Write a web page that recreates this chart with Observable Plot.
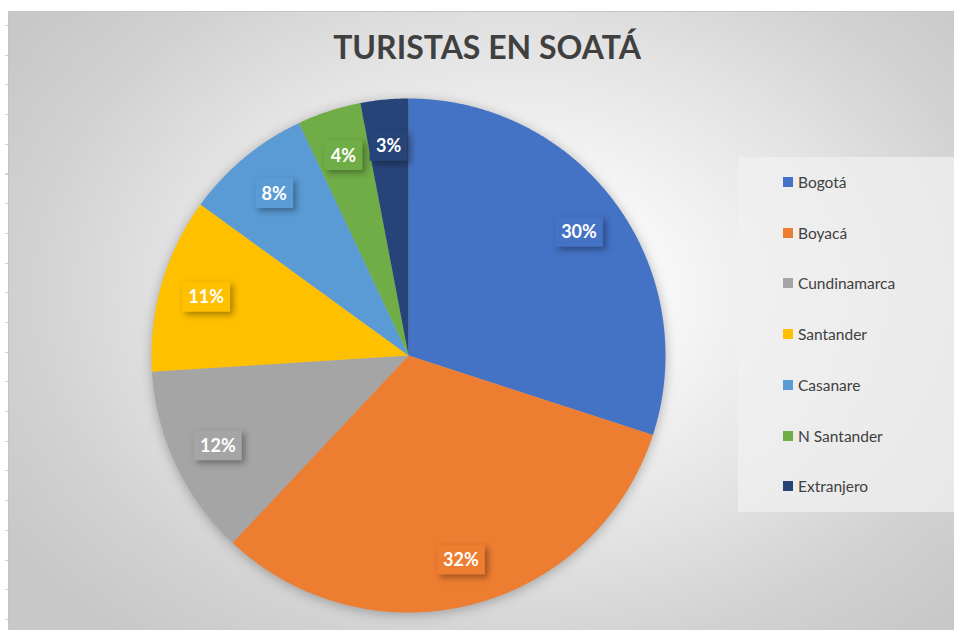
<!DOCTYPE html>
<html>
<head>
<meta charset="utf-8">
<script src="https://cdn.jsdelivr.net/npm/d3@7"></script>
<script src="https://cdn.jsdelivr.net/npm/@observablehq/plot@0.6"></script>
<style>
  html, body { margin: 0; padding: 0; background: #fff; }
  #wrap { position: relative; width: 954px; height: 630px; overflow: hidden; font-family: Lato, "Open Sans", sans-serif; }
  #ticks { position: absolute; left: 5px; top: 25px; width: 3px; height: 605px;
    background: repeating-linear-gradient(to bottom, #d4d4d4 0px, #d4d4d4 1px, transparent 1px, transparent 29.7px); }
  #frame { position: absolute; left: 8px; top: 11px; width: 980px; height: 640px; border: 1px solid #c4c4c4;
    background: radial-gradient(ellipse 62% 70% at 52% 44%, #ffffff 0%, #f7f7f7 25%, #e4e4e4 55%, #d2d2d2 80%, #c8c8c8 100%); }
  #title { position: absolute; left: 287px; width: 400px; top: 27px; text-align: center; font-weight: 700;
    font-size: 32px; color: #404040; letter-spacing: 0px; }
  #plot { position: absolute; left: 0; top: 0; }
  #plot svg { background: transparent !important; overflow: visible; }
  #plot g[aria-label="geo"] { filter: drop-shadow(0px 2px 6px rgba(0,0,0,0.28)); }
  #plot g[aria-label="dot"] path { filter: drop-shadow(3px 3px 3px rgba(0,0,0,0.35)); }
  #legend { position: absolute; left: 738px; top: 157px; width: 230px; height: 355px; background: rgba(240,240,240,0.75); }
  .li { position: absolute; left: 45px; height: 20px; display: flex; align-items: center; font-size: 15.5px; color: #404040; }
  .sw { width: 10px; height: 10px; margin-right: 5px; }
</style>
</head>
<body>
<div id="wrap">
  <div id="ticks"></div>
  <div id="frame"></div>
  <div id="plot"></div>
  <div id="title">TURISTAS EN SOATÁ</div>
  <div id="legend"></div>
</div>
<script>
const categories = ["Bogotá", "Boyacá", "Cundinamarca", "Santander", "Casanare", "N Santander", "Extranjero"];
const shares = [30, 32, 12, 11, 8, 4, 3];
const colors = ["#4472C4", "#ED7D31", "#A5A5A5", "#FFC000", "#5B9BD5", "#70AD47", "#264478"];

const total = d3.sum(shares);
let acc = 0;
const slices = categories.map((name, i) => {
  const a0 = acc / total * 2 * Math.PI;
  acc += shares[i];
  const a1 = acc / total * 2 * Math.PI;
  const ring = [[0, 0]];
  const n = Math.max(4, Math.ceil((a1 - a0) / (Math.PI / 360)));
  for (let k = 0; k <= n; k++) {
    const a = a0 + (a1 - a0) * k / n;
    ring.push([Math.sin(a), -Math.cos(a)]);
  }
  ring.push([0, 0]);
  const mid = (a0 + a1) / 2;
  return {
    name, share: shares[i], label: shares[i] + "%",
    geometry: {type: "Polygon", coordinates: [ring]},
    lx: 0.82 * Math.sin(mid), ly: -0.82 * Math.cos(mid)
  };
});

const wide = {draw(ctx) { ctx.rect(-24, -15, 48, 30); }};
const narrow = {draw(ctx) { ctx.rect(-19, -15, 38, 30); }};

const chart = Plot.plot({
  width: 954,
  height: 630,
  marginLeft: 151,
  marginRight: 289,
  marginTop: 98,
  marginBottom: 18,
  projection: {type: "identity", domain: {type: "MultiPoint", coordinates: [[-1, -1], [1, 1]]}},
  color: {domain: categories, range: colors},
  style: {background: "transparent", fontFamily: "Lato, 'Open Sans', sans-serif"},
  marks: [
    Plot.geo(slices, {geometry: "geometry", fill: "name", stroke: "none"}),
    Plot.dot(slices.filter(d => d.label.length > 2), {x: "lx", y: "ly", fill: "name", symbol: wide, r: 10, stroke: "none"}),
    Plot.dot(slices.filter(d => d.label.length <= 2), {x: "lx", y: "ly", fill: "name", symbol: narrow, r: 10, stroke: "none"}),
    Plot.text(slices, {x: "lx", y: "ly", text: "label", fill: "white", fontSize: 18, fontWeight: "bold", dy: 1})
  ]
});
document.getElementById("plot").appendChild(chart);

const legend = document.getElementById("legend");
categories.forEach((c, i) => {
  const row = document.createElement("div");
  row.className = "li";
  row.style.top = (15 + i * 50.7) + "px";
  const sw = document.createElement("div");
  sw.className = "sw";
  sw.style.background = colors[i];
  const t = document.createElement("span");
  t.textContent = c;
  row.appendChild(sw);
  row.appendChild(t);
  legend.appendChild(row);
});
</script>
</body>
</html>
